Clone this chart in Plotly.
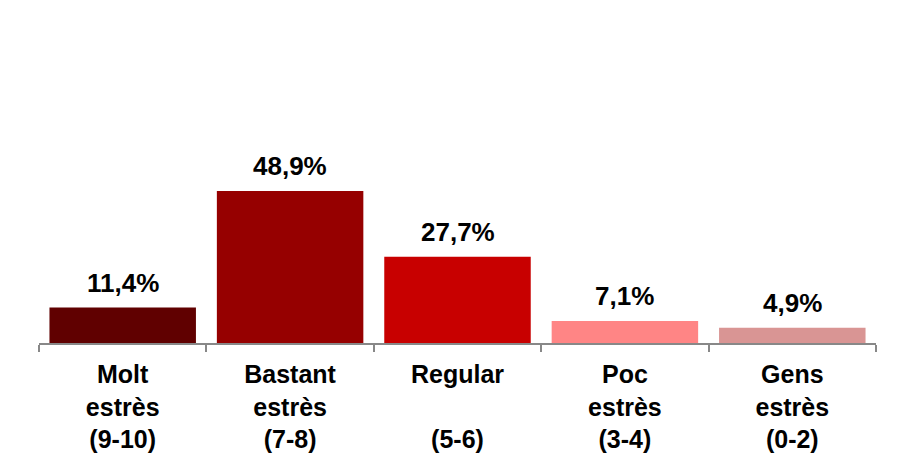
import plotly.graph_objects as go

categories = ["Molt<br>estrès<br>(9-10)", "Bastant<br>estrès<br>(7-8)",
              "Regular<br> <br>(5-6)", "Poc<br>estrès<br>(3-4)",
              "Gens<br>estrès<br>(0-2)"]
values = [11.4, 48.9, 27.7, 7.1, 4.9]
labels = ["11,4%", "48,9%", "27,7%", "7,1%", "4,9%"]
colors = ["#600000", "#960000", "#C80000", "#FF8585", "#D99594"]

font = "Liberation Sans, Arial, sans-serif"

fig = go.Figure(go.Bar(x=categories, y=values, marker_color=colors,
                       marker_line_width=0, hoverinfo="skip"))

for c, v, t in zip(categories, values, labels):
    fig.add_annotation(x=c, y=v, text="<b>%s</b>" % t, showarrow=False,
                       yanchor="middle", yshift=25,
                       font=dict(family=font, size=26, color="black"))

# page body adds an 8px offset, margins compensate for it
fig.update_layout(
    width=899, height=466,
    margin=dict(l=31, r=31, t=24, b=131),
    plot_bgcolor="white", paper_bgcolor="white",
    bargap=0.125, showlegend=False,
    font=dict(family=font, size=25, color="black"),
)
fig.update_xaxes(showline=True, linecolor="#888888", linewidth=2,
                 ticks="outside", tickson="boundaries", ticklen=7,
                 tickcolor="#888888", tickwidth=2, automargin=False,
                 ticklabelstandoff=8,
                 tickfont=dict(family=font, size=25, color="black", weight="bold"),
                 tickangle=0)
fig.update_yaxes(range=[0, 100], visible=False, showgrid=False, automargin=False)

fig.write_html("out.html")
